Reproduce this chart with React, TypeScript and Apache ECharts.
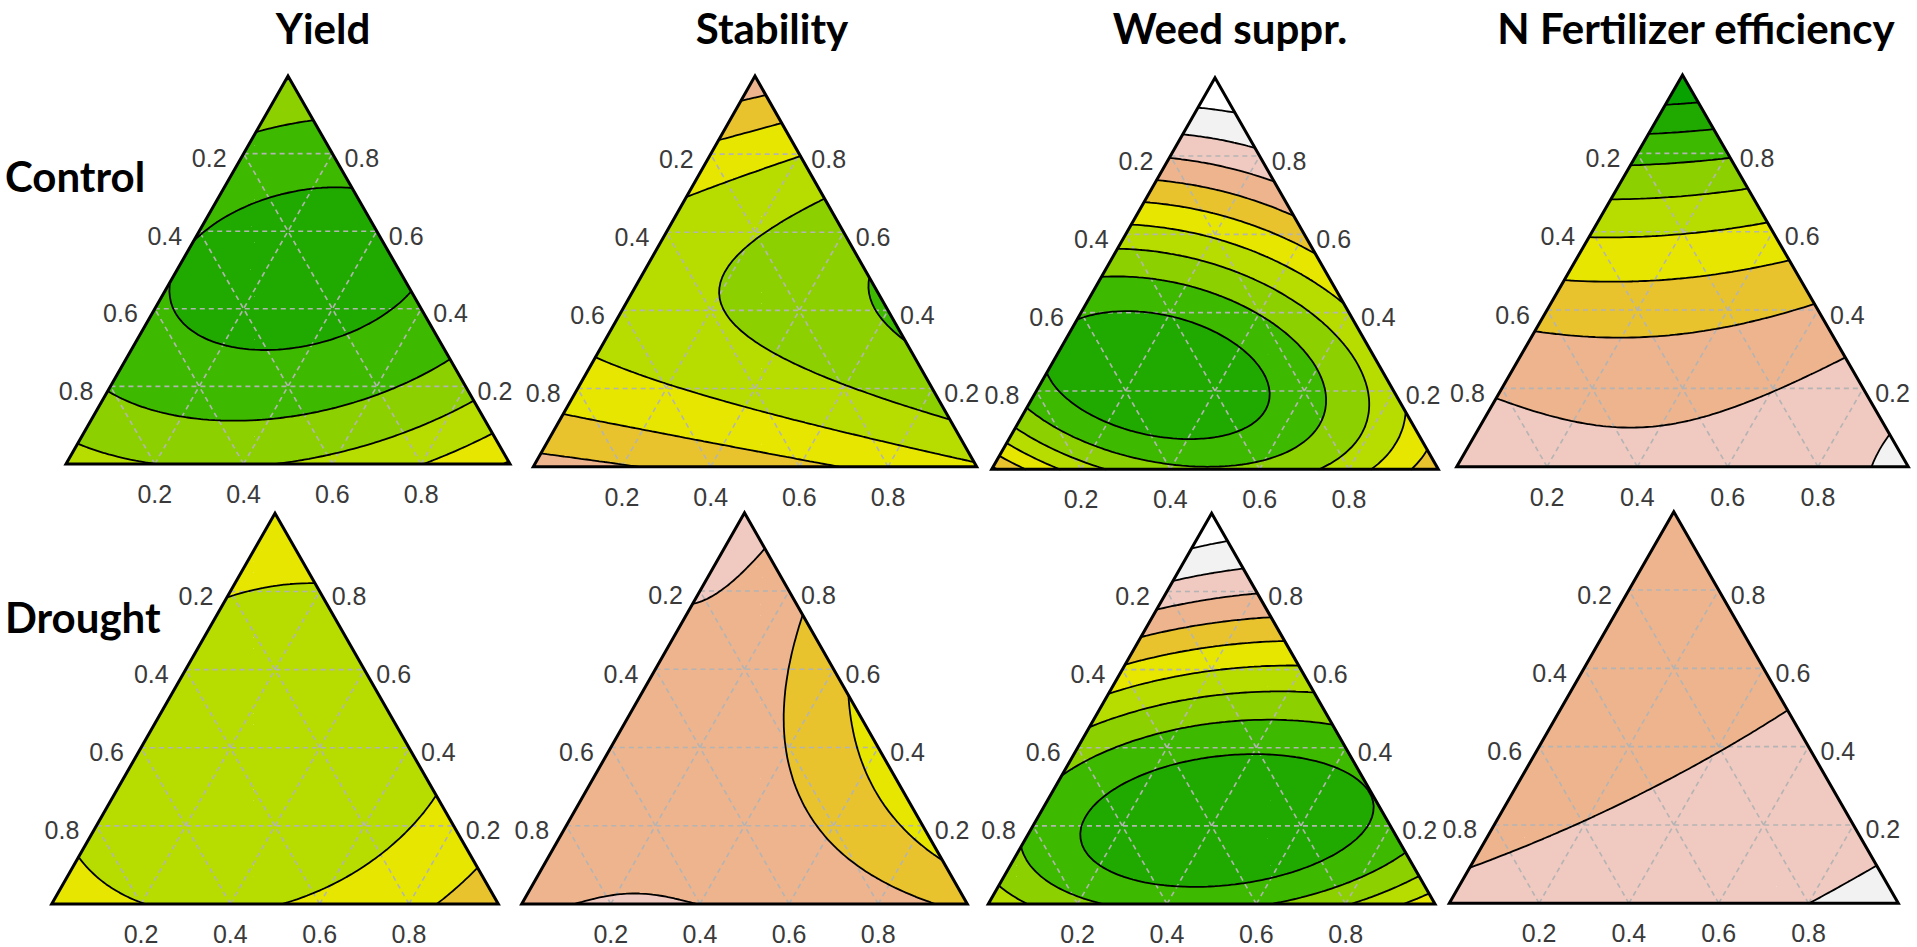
import React, { useEffect, useRef } from 'react';
import * as echarts from 'echarts';

// ---------------- data ----------------
const PANEL_TITLES = ['Yield', 'Stability', 'Weed suppr.', 'N Fertilizer efficiency'];
const ROW_LABELS = ['Control', 'Drought'];
const TICK_VALUES = [0.2, 0.4, 0.6, 0.8];
const TICK_LABELS = ['0.2', '0.4', '0.6', '0.8'];
const CONTOUR_LEVELS = [1, 2, 3, 4, 5, 6, 7, 8, 9, 10];
// colour of each band (band k holds responses between level k and k+1)
const BAND_COLORS = ['#07A200', '#20AA00', '#3DB900', '#8CD000', '#B7DC00', '#E6E600', '#E8C32E', '#EDB48E', '#F0C9C0', '#F2F2F2', '#FFFFFF'];

const yieldControl = [
  [0.882, 0.118, 3], [0.719, 0.281, 2], [0.448, 0.552, 2], [0.272, 0.728, 3], [0.173, 0.827, 4], [0.057, 0.943, 5],
  [0.856, 0, 3], [0.598, 0, 2], [0.455, 0, 2], [0.195, 0, 3], [0.053, 0, 4],
  [0, 0.18, 4], [0, 0.49, 4], [0, 0.79, 5], [0, 0.96, 6],
  [0.289, 0.2775, 2], [0.448, 0.025, 2], [0.689, 0.1075, 2], [0.109, 0.3225, 3],
];
const stabilityControl = [
  [0.943, 0, 7], [0.84, 0, 6], [0.691, 0, 5], [0.282, 0, 5], [0.137, 0, 6], [0.034, 0, 7],
  [0.947, 0.053, 7], [0.875, 0.125, 6], [0.793, 0.207, 5], [0.687, 0.313, 4], [0.495, 0.505, 3], [0.316, 0.684, 3], [0.124, 0.876, 4], [0.013, 0.987, 5],
  [0, 0.203, 7], [0, 0.669, 6],
  [0.452, 0.188, 4], [0.265, 0.4235, 4], [0.452, 0.518, 3], [0.179, 0.3915, 5], [0.06, 0.376, 6],
];
const weedControl = [
  [0.933, 0, 10], [0.8, 0, 9], [0.76, 0, 8], [0.722, 0, 7], [0.679, 0, 6], [0.641, 0, 5], [0.598, 0, 4], [0.53, 0, 3],
  [0.449, 0, 2], [0.27, 0, 2], [0.169, 0, 3], [0.122, 0, 4], [0.075, 0, 5], [0.032, 0, 6],
  [0.922, 0.078, 10], [0.803, 0.197, 9], [0.709, 0.291, 8], [0.637, 0.363, 7], [0.573, 0.427, 6], [0.5, 0.5, 5],
  [0.35, 0.65, 5.4], [0.08, 0.92, 6],
  [0, 0.052, 6], [0, 0.127, 5], [0, 0.235, 4], [0, 0.713, 4], [0, 0.84, 5], [0, 0.97, 6],
  [0.266, 0.009, 2], [0.236, 0.528, 2], [0.449, 0.0925, 2], [0.1, 0.394, 2], [0.236, 0.636, 3], [0.288, 0.692, 4],
  [0.3725, 0.332, 2], [0.1675, 0.186, 2], [0.119, 0.5675, 2],
  [0.27, 0.259, 1.45], [0.3, 0.15, 1.6], [0.22, 0.4, 1.6],
  [1, 0, 10.4],
];
const fertControl = [
  [0.932, 0, 1], [0.851, 0, 2], [0.762, 0, 3], [0.672, 0, 4], [0.579, 0, 5], [0.485, 0, 6], [0.379, 0, 7], [0.153, 0, 8],
  [0.936, 0.064, 1], [0.86, 0.14, 2], [0.783, 0.217, 3], [0.702, 0.298, 4], [0.617, 0.383, 5], [0.536, 0.464, 6], [0.447, 0.553, 7], [0.26, 0.74, 8], [0.064, 0.936, 9],
  [0, 0.897, 9],
  [0.085, 0.2895, 8], [0.468, 0.156, 6], [0.353, 0.2295, 7], [0.574, 0.207, 5], [0.855, 0.0705, 2],
];
const yieldDrought = [
  [0.795, 0, 5], [0.121, 0, 5], [0.816, 0.184, 5], [0.27, 0.73, 5], [0.095, 0.905, 6],
  [0, 0.205, 5], [0, 0.522, 5], [0, 0.854, 6], [0.117, 0.6835, 5], [0.816, 0.118, 5], [0.35, 0.3, 4.2],
];
const stabilityDrought = [
  [0.717, 0, 8], [0.35, 0, 7.6], [0, 0, 7.9],
  [0.917, 0.083, 8], [0.81, 0.19, 7.5], [0.705, 0.295, 7], [0.547, 0.453, 6], [0.117, 0.883, 6], [0, 1, 6.7],
  [0, 0.09, 8], [0, 0.15, 8.03], [0, 0.22, 8.04], [0, 0.355, 8], [0, 0.5, 7.87], [0, 0.7, 7.53], [0, 0.928, 7],
  [0.023, 0.1945, 8.02], [0.012, 0.2, 8.03],
  [0.598, 0.283, 7], [0.462, 0.345, 7], [0.376, 0.395, 7], [0.249, 0.5295, 7], [0.155, 0.6745, 7],
  [0.462, 0.499, 6], [0.317, 0.6085, 6], [0.215, 0.7415, 6],
  [0.817, 0.0415, 8], [1, 0, 8.5], [0.35, 0.3, 7.5], [0.33, 0.64, 5.7],
];
const weedDrought = [
  [0.936, 0, 10], [0.812, 0, 9], [0.744, 0, 8], [0.659, 0, 7], [0.616, 0, 6], [0.556, 0, 5], [0.479, 0, 4], [0.339, 0, 3], [0.185, 0, 3], [0.049, 0, 4],
  [0.94, 0.06, 10], [0.838, 0.162, 9], [0.774, 0.226, 8], [0.709, 0.291, 7], [0.667, 0.333, 6], [0.625, 0.375, 5], [0.556, 0.444, 4], [0.493, 0.507, 3], [0.168, 0.832, 3], [0.087, 0.913, 4], [0.028, 0.972, 5],
  [0, 0.078, 4], [0, 0.235, 3], [0, 0.672, 3], [0, 0.828, 4], [0, 0.974, 5],
  [0.207, 0.1315, 2], [0.279, 0.6965, 2], [0.415, 0.3855, 2], [0.049, 0.4495, 2],
  [0.395, 0.5915, 2], [0.328, 0.199, 2], [0.069, 0.2465, 2], [0.136, 0.639, 2],
  [0.497, 0.28, 3], [0.552, 0.23, 4], [0.616, 0.2, 5], [0.659, 0.18, 6], [0.701, 0.15, 7], [0.774, 0.12, 8], [0.829, 0.09, 9],
  [0.232, 0.419, 1.35], [0.25, 0.25, 1.5], [0.22, 0.58, 1.5],
  [1, 0, 10.5],
];
const fertDrought = [
  [0.068, 0, 8], [0.485, 0.515, 8], [0.196, 0.193, 8], [0.4, 0.403, 8], [0.102, 0.898, 9], [0, 0.8, 9],
  [1, 0, 7.4], [0.5, 0, 7.6], [0, 0, 8.15], [0, 1, 9.3],
];

const PANELS = [
  { obs: yieldControl, cubic: false },
  { obs: stabilityControl, cubic: false },
  { obs: weedControl, cubic: true },
  { obs: fertControl, cubic: false },
  { obs: yieldDrought, cubic: false },
  { obs: stabilityDrought, cubic: true },
  { obs: weedDrought, cubic: true },
  { obs: fertDrought, cubic: false },
];

// ---------------- layout ----------------
const FRAMES = [
  [66, 76, 444, 388],
  [533.3, 76, 443.4, 390.7],
  [991.7, 77.7, 446.6, 391.6],
  [1456.7, 75, 451.6, 391.7],
  [51.7, 513.3, 446.6, 390.7],
  [521.7, 512.7, 445.6, 391.3],
  [988.3, 513.3, 446.7, 390.7],
  [1449.3, 511.7, 449, 391.6],
];
const TITLE_POS = [[323, 28], [772, 28], [1230, 28], [1696, 28]];
const ROW_POS = [[5, 176], [5, 617]];

// ---------------- model ----------------
function terms(a: number, l: number, r: number, cubic: boolean) {
  const t = [a, l, r, a * l, a * r, l * r];
  if (cubic) t.push(a * l * r, a * l * (a - l), a * r * (a - r), l * r * (l - r));
  return t;
}
function fitModel(obs: number[][], cubic: boolean) {
  const n = cubic ? 10 : 6;
  const M = Array.from({ length: n }, () => new Array(n + 1).fill(0));
  for (const o of obs) {
    const a = o[0], r = o[1], l = 1 - a - r;
    const t = terms(a, l, r, cubic);
    for (let i = 0; i < n; i++) {
      for (let j = 0; j < n; j++) M[i][j] += t[i] * t[j];
      M[i][n] += t[i] * o[2];
    }
  }
  for (let i = 0; i < n; i++) M[i][i] += 1e-5;
  for (let c = 0; c < n; c++) {
    let p = c;
    for (let r = c + 1; r < n; r++) if (Math.abs(M[r][c]) > Math.abs(M[p][c])) p = r;
    const tmp = M[c]; M[c] = M[p]; M[p] = tmp;
    for (let r = 0; r < n; r++) {
      if (r === c) continue;
      const f = M[r][c] / M[c][c];
      for (let k = c; k <= n; k++) M[r][k] -= f * M[c][k];
    }
  }
  return M.map((row, i) => row[n] / row[i]);
}
function evalModel(c: number[], cubic: boolean, a: number, l: number, r: number) {
  const t = terms(a, l, r, cubic);
  let v = 0;
  for (let i = 0; i < t.length; i++) v += c[i] * t[i];
  return v;
}

const bandOf = (v: number) => (v < 1 ? 0 : v >= 10 ? 10 : Math.floor(v));

function clipPoly(poly: number[][], level: number, above: boolean) {
  const out: number[][] = [];
  for (let k = 0; k < poly.length; k++) {
    const P = poly[k], Q = poly[(k + 1) % poly.length];
    const pin = above ? P[2] >= level : P[2] <= level;
    const qin = above ? Q[2] >= level : Q[2] <= level;
    if (pin) out.push(P);
    if (pin !== qin) {
      const t = (level - P[2]) / (Q[2] - P[2]);
      out.push([P[0] + t * (Q[0] - P[0]), P[1] + t * (Q[1] - P[1]), level]);
    }
  }
  return out;
}
const f1 = (x: number) => x.toFixed(1);
function polyPath(poly: number[][]) {
  let s = 'M' + f1(poly[0][0]) + ' ' + f1(poly[0][1]);
  for (let k = 1; k < poly.length; k++) s += 'L' + f1(poly[k][0]) + ' ' + f1(poly[k][1]);
  return s + 'Z';
}

const LABEL_FONT = '25px "Liberation Sans", Arial, sans-serif';

function renderPanel(coef: number[], cubic: boolean, api: any) {
  const N = 72;
  const grid: number[][][] = [];
  for (let j = 0; j <= N; j++) {
    const row: number[][] = [];
    for (let i = 0; i <= N - j; i++) {
      const a = j / N, r = i / N, l = Math.max(0, 1 - a - r);
      const c = api.coord([r + a / 2, a]);
      row.push([c[0], c[1], evalModel(coef, cubic, a, l, r) + 1e-7]);
    }
    grid.push(row);
  }
  const bands: string[][] = BAND_COLORS.map(() => []);
  const lines: string[] = [];
  const tri = (P: number[], Q: number[], R: number[]) => {
    const vmin = Math.min(P[2], Q[2], R[2]);
    const vmax = Math.max(P[2], Q[2], R[2]);
    const b0 = bandOf(vmin), b1 = bandOf(vmax);
    if (b0 === b1) {
      bands[b0].push(polyPath([P, Q, R]));
    } else {
      for (let b = b0; b <= b1; b++) {
        let poly = [P, Q, R];
        if (b > b0) poly = clipPoly(poly, b, true);
        if (b < b1 && poly.length) poly = clipPoly(poly, b + 1, false);
        if (poly.length >= 3) bands[b].push(polyPath(poly));
      }
    }
    for (const L of CONTOUR_LEVELS) {
      if (L <= vmin || L >= vmax) continue;
      const pts: number[][] = [];
      const E = [[P, Q], [Q, R], [R, P]];
      for (const [U, V] of E) {
        if ((U[2] - L) * (V[2] - L) < 0) {
          const t = (L - U[2]) / (V[2] - U[2]);
          pts.push([U[0] + t * (V[0] - U[0]), U[1] + t * (V[1] - U[1])]);
        }
      }
      if (pts.length === 2) lines.push('M' + f1(pts[0][0]) + ' ' + f1(pts[0][1]) + 'L' + f1(pts[1][0]) + ' ' + f1(pts[1][1]));
    }
  };
  for (let j = 0; j < N; j++) {
    for (let i = 0; i < N - j; i++) {
      tri(grid[j][i], grid[j][i + 1], grid[j + 1][i]);
      if (i < N - j - 1) tri(grid[j][i + 1], grid[j + 1][i + 1], grid[j + 1][i]);
    }
  }
  const children: any[] = [];
  bands.forEach((parts, b) => {
    if (!parts.length) return;
    children.push({ type: 'path', shape: { pathData: parts.join('') }, style: { fill: BAND_COLORS[b] } });
  });
  // dashed reference grid
  const dash = { stroke: '#b4b4b4', lineWidth: 1.6, lineDash: [5, 4], fill: null };
  for (const t of TICK_VALUES) {
    const segs = [
      [[t / 2, t], [1 - t / 2, t]],
      [[t, 0], [t + (1 - t) / 2, 1 - t]],
      [[1 - t, 0], [(1 - t) / 2, 1 - t]],
    ];
    for (const [p, q] of segs) {
      const A = api.coord(p), B = api.coord(q);
      children.push({ type: 'line', shape: { x1: A[0], y1: A[1], x2: B[0], y2: B[1] }, style: dash });
    }
  }
  children.push({ type: 'path', shape: { pathData: lines.join('') }, style: { stroke: '#000', lineWidth: 1.8, fill: null, lineCap: 'round' } });
  const c0 = api.coord([0, 0]), c1 = api.coord([1, 0]), c2 = api.coord([0.5, 1]);
  children.push({ type: 'polygon', shape: { points: [c0, c1, c2] }, style: { stroke: '#000', lineWidth: 3, fill: null, lineJoin: 'miter' } });
  TICK_VALUES.forEach((t, k) => {
    const L = api.coord([(1 - t) / 2, 1 - t]);
    children.push({ type: 'text', x: L[0] - 17, y: L[1] + 4.5, style: { text: TICK_LABELS[k], font: LABEL_FONT, fill: '#3a3a3a', align: 'right', verticalAlign: 'middle' } });
    const R = api.coord([1 - t / 2, t]);
    children.push({ type: 'text', x: R[0] + 12, y: R[1] + 4.5, style: { text: TICK_LABELS[k], font: LABEL_FONT, fill: '#3a3a3a', align: 'left', verticalAlign: 'middle' } });
    const B = api.coord([t, 0]);
    children.push({ type: 'text', x: B[0], y: B[1] + 30, style: { text: TICK_LABELS[k], font: LABEL_FONT, fill: '#3a3a3a', align: 'center', verticalAlign: 'middle' } });
  });
  return { type: 'group', children };
}

export default function App() {
  const ref = useRef<HTMLDivElement>(null);
  useEffect(() => {
    document.body.style.margin = '0';
    document.body.style.overflow = 'hidden';
    if (!ref.current) return;
    const chart = echarts.init(ref.current, undefined, { renderer: 'svg' });
    const coefs = PANELS.map((p) => fitModel(p.obs, p.cubic));
    const titleFont = 'bold 42px Lato, "Open Sans", sans-serif';
    const option: any = {
      animation: false,
      backgroundColor: '#ffffff',
      grid: FRAMES.map(([l, t, w, h]) => ({ left: l, top: t, width: w, height: h })),
      xAxis: FRAMES.map((_, i) => ({ type: 'value', gridIndex: i, min: 0, max: 1, show: false })),
      yAxis: FRAMES.map((_, i) => ({ type: 'value', gridIndex: i, min: 0, max: 1, show: false })),
      series: PANELS.map((p, i) => ({
        type: 'custom',
        coordinateSystem: 'cartesian2d',
        xAxisIndex: i,
        yAxisIndex: i,
        clip: false,
        silent: true,
        data: [[0.5, 0.5]],
        renderItem: (_params: any, api: any) => renderPanel(coefs[i], p.cubic, api),
      })),
      graphic: [
        ...PANEL_TITLES.map((t, i) => ({
          type: 'text', x: TITLE_POS[i][0], y: TITLE_POS[i][1], silent: true,
          style: { text: t, font: titleFont, fill: '#000', align: 'center', verticalAlign: 'middle' },
        })),
        ...ROW_LABELS.map((t, i) => ({
          type: 'text', x: ROW_POS[i][0], y: ROW_POS[i][1], silent: true,
          style: { text: t, font: titleFont, fill: '#000', align: 'left', verticalAlign: 'middle' },
        })),
      ],
    };
    chart.setOption(option);
    return () => chart.dispose();
  }, []);
  return <div ref={ref} style={{ width: 1917, height: 947, position: 'absolute', left: 0, top: 0 }} />;
}
